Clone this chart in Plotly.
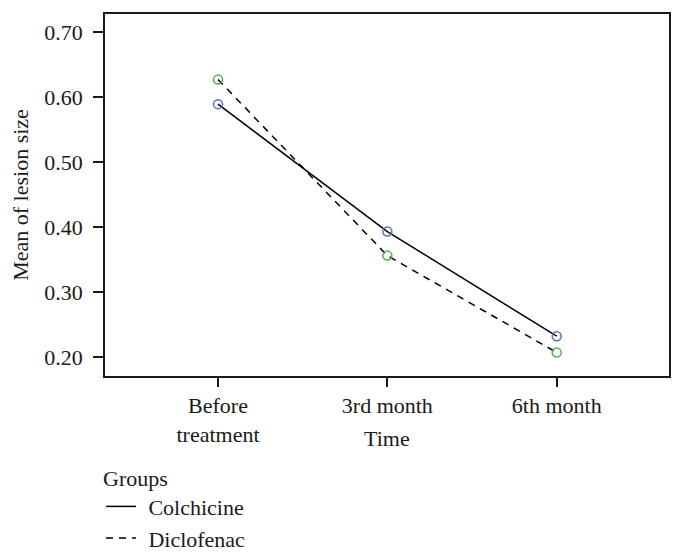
import plotly.graph_objects as go

categories = ["Before<br>treatment", "3rd month", "6th month"]
x_pos = [0, 1, 2]
colchicine = [0.589, 0.393, 0.232]
diclofenac = [0.627, 0.356, 0.207]
y_ticks = [0.2, 0.3, 0.4, 0.5, 0.6, 0.7]
y_tick_labels = ["0.20", "0.30", "0.40", "0.50", "0.60", "0.70"]
group_names = ["Colchicine", "Diclofenac"]

FONT = "Liberation Serif"
FS = 22
INK = "#1a1a1a"

# page body has an 8px default margin, so offsets compensate for it
W, H = 676, 545
ML, MR, MT, MB = 97, 15, 6, 177
plot_h = H - MT - MB
plot_w = W - ML - MR

fig = go.Figure()
fig.add_trace(go.Scatter(x=x_pos, y=colchicine, mode="lines", name="\u2004" + group_names[0],
                         line=dict(color="black", width=1.5, dash="solid")))
fig.add_trace(go.Scatter(x=x_pos, y=diclofenac, mode="lines", name="\u2004" + group_names[1],
                         line=dict(color="black", width=1.5, dash="7px,6px")))
fig.add_trace(go.Scatter(x=x_pos, y=colchicine, mode="markers", showlegend=False,
                         marker=dict(symbol="circle-open", size=9, color="#5b6fb8",
                                     line=dict(width=1.5))))
fig.add_trace(go.Scatter(x=x_pos, y=diclofenac, mode="markers", showlegend=False,
                         marker=dict(symbol="circle-open", size=9, color="#4fb354",
                                     line=dict(width=1.5))))

fig.add_annotation(text="Time", xref="paper", yref="paper",
                   x=(387 - 105) / plot_w, y=-(438 - 376) / plot_h,
                   xanchor="center", yanchor="middle",
                   showarrow=False, font=dict(size=FS))

fig.update_layout(
    width=W, height=H,
    margin=dict(l=ML, r=MR, t=MT, b=MB, autoexpand=False),
    plot_bgcolor="white", paper_bgcolor="white",
    font=dict(family=FONT, size=FS, color=INK),
    xaxis=dict(
        range=[-0.667, 2.663], tickvals=x_pos, ticktext=categories,
        showgrid=False, zeroline=False, showline=True, mirror=True,
        linecolor=INK, linewidth=1.5,
        ticks="outside", ticklen=9, tickwidth=1.5, tickcolor=INK,
    ),
    yaxis=dict(
        range=[0.1708, 0.7277], tickvals=y_ticks, ticktext=y_tick_labels,
        showgrid=False, zeroline=False, showline=True, mirror=True,
        linecolor=INK, linewidth=1.5,
        ticks="outside", ticklen=10, tickwidth=1.5, tickcolor=INK,
        ticklabelstandoff=6,
        title=dict(text="Mean of lesion size", standoff=17, font=dict(size=FS)),
    ),
    legend=dict(
        title=dict(text="Groups", font=dict(size=FS)),
        orientation="v", x=-0.007, xanchor="left", y=-(457 - 376) / plot_h, yanchor="top",
        font=dict(size=FS), tracegroupgap=0, itemwidth=30,
        bgcolor="rgba(0,0,0,0)",
    ),
)

fig.write_html("out.html")
